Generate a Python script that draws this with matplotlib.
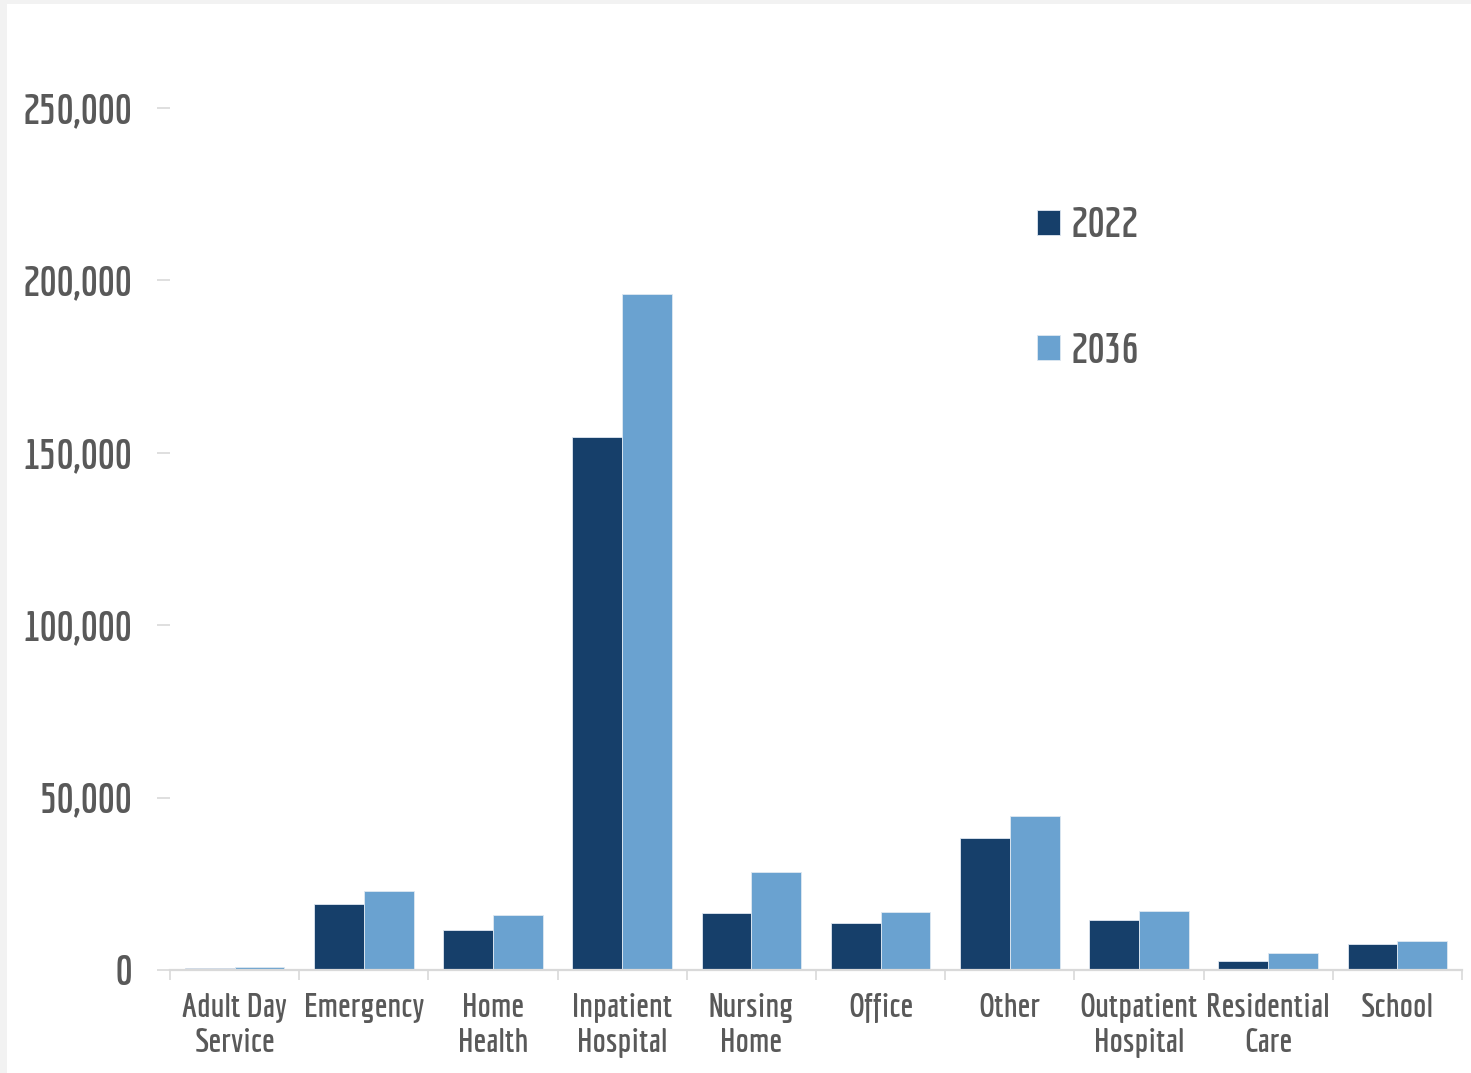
import numpy as np
import matplotlib.pyplot as plt
from matplotlib.ticker import FuncFormatter

# workers by care setting, 2022 vs projected 2036
settings = ['Adult Day\nService', 'Emergency', 'Home\nHealth', 'Inpatient\nHospital',
            'Nursing\nHome', 'Office', 'Other', 'Outpatient\nHospital',
            'Residential\nCare', 'School']
values_2022 = [600, 19100, 11500, 154500, 16600, 13700, 38300, 14500, 2500, 7500]
values_2036 = [900, 22800, 16000, 196000, 28400, 16800, 44700, 17100, 4800, 8300]

dark_blue = '#163f6a'
light_blue = '#6aa2d0'
text_gray = '#595959'
line_gray = '#d9d9d9'

plt.rcParams['font.family'] = ['Economica', 'DejaVu Sans']
plt.rcParams['font.weight'] = 'bold'

fig = plt.figure(figsize=(14.71, 10.73), dpi=100)
fig.patch.set_facecolor('#f2f2f2')
# white panel inside the thin grey border
fig.patches.append(plt.Rectangle((7 / 1471, 0), 1, 1 - 4 / 1073, transform=fig.transFigure,
                                 facecolor='white', edgecolor='none', zorder=-1))

ax = fig.add_axes([170 / 1471, 103 / 1073, 1292 / 1471, 862 / 1073])
ax.set_facecolor('white')

x = np.arange(len(settings))
w = 0.385
ax.bar(x - w / 2, values_2022, w, color=dark_blue, edgecolor='#dfe8f1', linewidth=0.6, label='2022')
ax.bar(x + w / 2, values_2036, w, color=light_blue, edgecolor='#dfe8f1', linewidth=0.6, label='2036')

ax.set_xlim(-0.5, len(settings) - 0.5)
ax.set_ylim(0, 250000)

for side in ['top', 'right', 'left']:
    ax.spines[side].set_visible(False)
ax.spines['bottom'].set_color(line_gray)
ax.spines['bottom'].set_linewidth(1.6)

ax.set_yticks(np.arange(0, 250001, 50000))
ax.yaxis.set_major_formatter(FuncFormatter(lambda v, p: f'{int(v):,}'))
ax.tick_params(axis='y', length=9.4, width=1.2, color=line_gray, pad=18.5,
               labelsize=30, labelcolor=text_gray)

ax.set_xticks(x)
ax.set_xticklabels(settings, linespacing=1.2)
ax.set_xticks(np.arange(-0.5, len(settings), 1), minor=True)
ax.tick_params(axis='x', which='major', length=0, pad=16.5, labelsize=24, labelcolor=text_gray)
ax.tick_params(axis='x', which='minor', length=7, width=1.2, color=line_gray)

leg = ax.legend(loc='upper left', bbox_to_anchor=(0.671, 0.885), frameon=False,
                fontsize=30, labelcolor=text_gray, handlelength=0.55, handleheight=0.55,
                handletextpad=0.25, labelspacing=2.1, borderpad=0, borderaxespad=0)

fig.savefig('out.png', dpi=100, facecolor=fig.get_facecolor())
